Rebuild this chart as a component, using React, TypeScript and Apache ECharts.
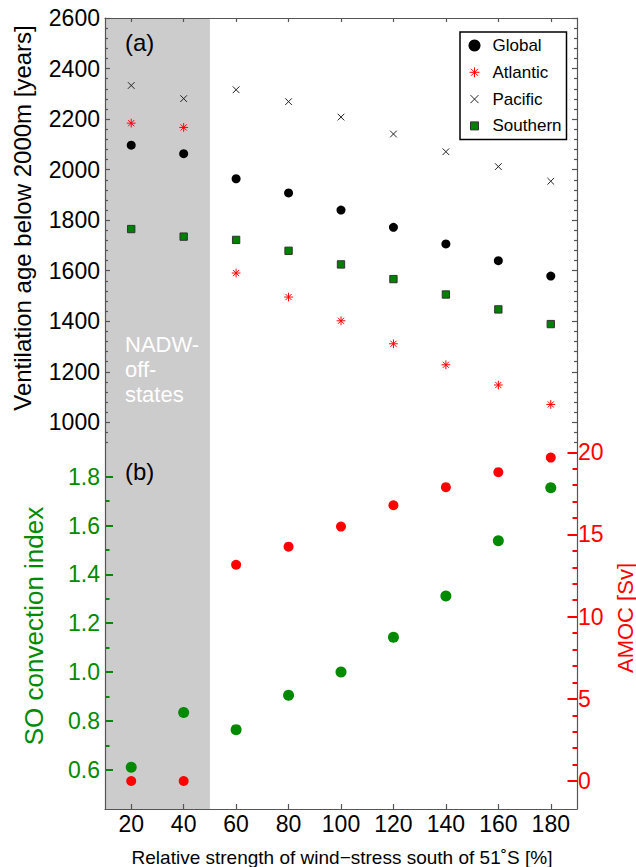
import React, { useEffect, useRef } from "react";
import * as echarts from "echarts";

// ---- data ----
const windStrength = [20, 40, 60, 80, 100, 120, 140, 160, 180];
const globalAge = [2097, 2063, 1964, 1908, 1840, 1772, 1706, 1640, 1579];
const atlanticAge = [2184, 2167, 1591, 1496, 1402, 1311, 1228, 1148, 1071];
const pacificAge = [2333, 2281, 2316, 2269, 2208, 2141, 2071, 2012, 1954];
const southernAge = [1765, 1735, 1722, 1679, 1625, 1567, 1506, 1447, 1389];
const soConvection = [0.61, 0.834, 0.764, 0.905, 1.0, 1.142, 1.311, 1.538, 1.755];
const amoc = [0, 0, 13.16, 14.26, 15.48, 16.78, 17.88, 18.79, 19.68];
const nadwOffRange = [10, 50];

// ---- tick values ----
const xTicks = [20, 40, 60, 80, 100, 120, 140, 160, 180];
const ageTicks = [1000, 1200, 1400, 1600, 1800, 2000, 2200, 2400, 2600];
const ageMinorTicks = [
  920, 960, 1040, 1080, 1120, 1160, 1240, 1280, 1320, 1360, 1440, 1480, 1520, 1560,
  1640, 1680, 1720, 1760, 1840, 1880, 1920, 1960, 2040, 2080, 2120, 2160, 2240, 2280,
  2320, 2360, 2440, 2480, 2520, 2560,
];
const soTicks = [0.6, 0.8, 1.0, 1.2, 1.4, 1.6, 1.8];
const soMinorTicks = [0.7, 0.9, 1.1, 1.3, 1.5, 1.7];
const amocTicks = [0, 5, 10, 15, 20];
const amocMinorTicks = [1, 2, 3, 4, 6, 7, 8, 9, 11, 12, 13, 14, 16, 17, 18, 19];

// ---- axis ranges ----
const X_MIN = 10;
const X_MAX = 190;
const AGE_MIN = 906.6;
const AGE_MAX = 2600;
const SO_MIN = 0.4389;
const SO_MAX = 1.9257;
const AMOC_MIN = -1.704;
const AMOC_MAX = 20.383;

// ---- layout ----
const GRID_LEFT = 105;
const GRID_RIGHT = 59;
const PLOT_W = 636 - GRID_LEFT - GRID_RIGHT;
const TOP_A = 18;
const H_A = 428;
const H_B = 363;

const FONT = "'Liberation Sans', Arial, Helvetica, sans-serif";
const SPINE = "#555555";
const TICK = "#555555";
const GREEN = "#008a00";
const RED = "#ff0000";
const SHADE = "#cccccc";

const ASTERISK = "path://M0,0 M12,12 M6,1 L6,11 M1,6 L11,6 M2.5,2.5 L9.5,9.5 M9.5,2.5 L2.5,9.5";
const CROSS = "path://M0,0 M12,12 M2,2 L10,10 M10,2 L2,10";
const SQUARE = "path://M0,0 M12,12 M2,2 L10,2 L10,10 L2,10 Z";

const pairs = (ys: number[]) => windStrength.map((x, i) => [x, ys[i]]);
const plain = (v: number) => String(Math.round(v * 1000) / 1000);

// data units per pixel
const X_PER_PX = (X_MAX - X_MIN) / PLOT_W;
const AGE_PER_PX = (AGE_MAX - AGE_MIN) / H_A;
const SO_PER_PX = (SO_MAX - SO_MIN) / H_B;

type Side = "left" | "right" | "top" | "bottom";

// inward-pointing tick marks as mark lines placed through the axes' scales
function tickSeries(
  xAxisIndex: number,
  yAxisIndex: number,
  values: number[],
  side: Side,
  lenPx: number,
  color: string,
  width: number,
  yMin: number,
  yMax: number,
  yPerPx: number
) {
  const lines = values.map((v) => {
    if (side === "left") return [{ coord: [X_MIN, v] }, { coord: [X_MIN + lenPx * X_PER_PX, v] }];
    if (side === "right") return [{ coord: [X_MAX, v] }, { coord: [X_MAX - lenPx * X_PER_PX, v] }];
    if (side === "top") return [{ coord: [v, yMax] }, { coord: [v, yMax - lenPx * yPerPx] }];
    return [{ coord: [v, yMin] }, { coord: [v, yMin + lenPx * yPerPx] }];
  });
  return {
    type: "scatter",
    name: "ticks",
    xAxisIndex,
    yAxisIndex,
    silent: true,
    z: 8,
    data: [],
    markLine: {
      silent: true,
      animation: false,
      symbol: ["none", "none"],
      label: { show: false },
      emphasis: { disabled: true },
      lineStyle: { color, width, type: "solid", opacity: 1 },
      data: lines,
    },
  };
}

function yAxisDef(o: any) {
  return {
    type: "value",
    z: 10,
    splitLine: { show: false },
    axisLine: { show: true, onZero: false, lineStyle: { color: SPINE, width: 1.2 } },
    axisLabel: { show: false },
    axisTick: { show: false },
    ...o,
  };
}

export default function App() {
  const ref = useRef<HTMLDivElement>(null);

  useEffect(() => {
    if (!ref.current) return;
    const chart = echarts.init(ref.current, null, { renderer: "svg" });

    const option: any = {
      animation: false,
      backgroundColor: "#ffffff",
      grid: [
        { left: GRID_LEFT, right: GRID_RIGHT, top: TOP_A, height: H_A },
        { left: GRID_LEFT, right: GRID_RIGHT, top: TOP_A + H_A, height: H_B },
      ],
      xAxis: [
        {
          type: "value",
          gridIndex: 0,
          position: "top",
          z: 10,
          min: X_MIN,
          max: X_MAX,
          splitLine: { show: false },
          axisLine: { show: true, onZero: false, lineStyle: { color: SPINE, width: 1.2 } },
          axisTick: { show: false },
          axisLabel: { show: false },
        },
        {
          type: "value",
          gridIndex: 1,
          position: "bottom",
          z: 10,
          min: X_MIN,
          max: X_MAX,
          splitLine: { show: false },
          axisLine: { show: true, onZero: false, lineStyle: { color: SPINE, width: 1.2 } },
          axisTick: { show: false },
          axisLabel: {
            show: true,
            customValues: xTicks,
            margin: 3,
            color: "#000",
            fontSize: 23,
            fontFamily: FONT,
            formatter: plain,
          },
        },
      ],
      yAxis: [
        yAxisDef({
          gridIndex: 0,
          position: "left",
          min: AGE_MIN,
          max: AGE_MAX,
          axisLabel: {
            show: true,
            customValues: ageTicks,
            margin: 5,
            color: "#000",
            fontSize: 23,
            fontFamily: FONT,
            formatter: plain,
          },
        }),
        yAxisDef({ gridIndex: 0, position: "right", min: AGE_MIN, max: AGE_MAX }),
        yAxisDef({
          gridIndex: 1,
          position: "left",
          min: SO_MIN,
          max: SO_MAX,
          axisLabel: {
            show: true,
            customValues: soTicks,
            margin: 5,
            color: GREEN,
            fontSize: 23,
            fontFamily: FONT,
            formatter: (v: number) => v.toFixed(1),
          },
        }),
        yAxisDef({
          gridIndex: 1,
          position: "right",
          min: AMOC_MIN,
          max: AMOC_MAX,
          axisLabel: {
            show: true,
            customValues: amocTicks,
            margin: 1,
            color: RED,
            fontSize: 23,
            fontFamily: FONT,
            formatter: plain,
          },
        }),
      ],
      legend: {
        show: true,
        orient: "vertical",
        left: 460,
        top: 32,
        z: 20,
        padding: [5, 5, 5, 8],
        itemGap: 9.8,
        itemWidth: 12,
        itemHeight: 12,
        borderColor: "#000",
        borderWidth: 1.5,
        borderRadius: 0,
        backgroundColor: "#ffffff",
        selectedMode: false,
        textStyle: { fontSize: 17, fontFamily: FONT, color: "#000", padding: [0, 0, 0, 7] },
        data: [
          { name: "Global", icon: "circle", itemStyle: { color: "#000", borderWidth: 0 } },
          { name: "Atlantic", icon: ASTERISK, itemStyle: { color: RED, borderColor: RED, borderWidth: 1 } },
          { name: "Pacific", icon: CROSS, itemStyle: { color: "#222", borderColor: "#222", borderWidth: 1 } },
          { name: "Southern", icon: SQUARE, itemStyle: { color: "#008000", borderColor: "#333", borderWidth: 1 } },
        ],
      },
      series: [
        {
          name: "shade-a",
          type: "scatter",
          xAxisIndex: 0,
          yAxisIndex: 0,
          data: [],
          silent: true,
          z: 0,
          markArea: {
            silent: true,
            itemStyle: { color: SHADE },
            data: [[{ xAxis: nadwOffRange[0] }, { xAxis: nadwOffRange[1] }]],
          },
        },
        {
          name: "shade-b",
          type: "scatter",
          xAxisIndex: 1,
          yAxisIndex: 2,
          data: [],
          silent: true,
          z: 0,
          markArea: {
            silent: true,
            itemStyle: { color: SHADE },
            data: [[{ xAxis: nadwOffRange[0] }, { xAxis: nadwOffRange[1] }]],
          },
        },
        // ticks: panel (a)
        tickSeries(0, 0, ageTicks, "left", 5, TICK, 1.2, AGE_MIN, AGE_MAX, AGE_PER_PX),
        tickSeries(0, 0, ageMinorTicks, "left", 3, TICK, 1.2, AGE_MIN, AGE_MAX, AGE_PER_PX),
        tickSeries(0, 0, ageTicks, "right", 5, TICK, 1.2, AGE_MIN, AGE_MAX, AGE_PER_PX),
        tickSeries(0, 0, ageMinorTicks, "right", 3, TICK, 1.2, AGE_MIN, AGE_MAX, AGE_PER_PX),
        tickSeries(0, 0, xTicks, "top", 4, TICK, 1.2, AGE_MIN, AGE_MAX, AGE_PER_PX),
        // ticks: panel (b)
        tickSeries(1, 2, soTicks, "left", 8, GREEN, 2, SO_MIN, SO_MAX, SO_PER_PX),
        tickSeries(1, 2, soMinorTicks, "left", 4.5, GREEN, 2, SO_MIN, SO_MAX, SO_PER_PX),
        tickSeries(1, 3, amocTicks, "right", 9.5, RED, 2, SO_MIN, SO_MAX, SO_PER_PX),
        tickSeries(1, 3, amocMinorTicks, "right", 4.5, RED, 2, SO_MIN, SO_MAX, SO_PER_PX),
        tickSeries(1, 2, xTicks, "bottom", 5, TICK, 1.2, SO_MIN, SO_MAX, SO_PER_PX),
        {
          name: "Global",
          type: "scatter",
          xAxisIndex: 0,
          yAxisIndex: 0,
          z: 3,
          symbol: "circle",
          symbolSize: 9,
          itemStyle: { color: "#000", opacity: 1 },
          data: pairs(globalAge),
        },
        {
          name: "Atlantic",
          type: "scatter",
          xAxisIndex: 0,
          yAxisIndex: 0,
          z: 3,
          symbol: ASTERISK,
          symbolSize: 10.5,
          itemStyle: { color: RED, borderColor: RED, borderWidth: 1, opacity: 1 },
          data: pairs(atlanticAge),
        },
        {
          name: "Pacific",
          type: "scatter",
          xAxisIndex: 0,
          yAxisIndex: 0,
          z: 3,
          symbol: CROSS,
          symbolSize: 10,
          itemStyle: { color: "#222", borderColor: "#222", borderWidth: 1, opacity: 1 },
          data: pairs(pacificAge),
        },
        {
          name: "Southern",
          type: "scatter",
          xAxisIndex: 0,
          yAxisIndex: 0,
          z: 3,
          symbol: SQUARE,
          symbolSize: 11,
          itemStyle: { color: "#008000", borderColor: "#333", borderWidth: 1, opacity: 1 },
          data: pairs(southernAge),
        },
        {
          name: "SO convection index",
          type: "scatter",
          xAxisIndex: 1,
          yAxisIndex: 2,
          z: 3,
          symbol: "circle",
          symbolSize: 11,
          itemStyle: { color: GREEN, opacity: 1 },
          data: pairs(soConvection),
        },
        {
          name: "AMOC",
          type: "scatter",
          xAxisIndex: 1,
          yAxisIndex: 3,
          z: 3,
          symbol: "circle",
          symbolSize: 10,
          itemStyle: { color: RED, opacity: 1 },
          data: pairs(amoc),
        },
      ],
      graphic: [
        {
          type: "text",
          x: 22,
          y: 218,
          rotation: Math.PI / 2,
          style: {
            text: "Ventilation age below 2000m [years]",
            fontSize: 24,
            fontFamily: FONT,
            fill: "#000",
            align: "center",
            verticalAlign: "middle",
          },
        },
        {
          type: "text",
          x: 34,
          y: 626,
          rotation: Math.PI / 2,
          style: {
            text: "SO convection index",
            fontSize: 26,
            fontFamily: FONT,
            fill: GREEN,
            align: "center",
            verticalAlign: "middle",
          },
        },
        {
          type: "text",
          x: 625,
          y: 618,
          rotation: Math.PI / 2,
          style: {
            text: "AMOC [Sv]",
            fontSize: 22,
            fontFamily: FONT,
            fill: RED,
            align: "center",
            verticalAlign: "middle",
          },
        },
        {
          type: "text",
          x: 342,
          y: 857,
          style: {
            text: "Relative strength of wind\u2212stress south of 51\u02DAS [%]",
            fontSize: 19,
            fontFamily: FONT,
            fill: "#000",
            align: "center",
            verticalAlign: "middle",
          },
        },
        {
          type: "text",
          x: 125,
          y: 42.5,
          z: 10,
          style: { text: "(a)", fontSize: 24, fontFamily: FONT, fill: "#000", align: "left", verticalAlign: "middle" },
        },
        {
          type: "text",
          x: 125,
          y: 471,
          z: 10,
          style: { text: "(b)", fontSize: 24, fontFamily: FONT, fill: "#000", align: "left", verticalAlign: "middle" },
        },
        {
          type: "text",
          x: 125,
          y: 369,
          z: 10,
          style: {
            text: "NADW-\noff-\nstates",
            fontSize: 22,
            lineHeight: 25,
            fontFamily: FONT,
            fill: "#ffffff",
            align: "left",
            verticalAlign: "middle",
          },
        },
      ],
    };

    chart.setOption(option);
    return () => chart.dispose();
  }, []);

  return (
    <div
      ref={ref}
      style={{ position: "absolute", left: 0, top: 0, width: 636, height: 867, background: "#fff" }}
    />
  );
}
